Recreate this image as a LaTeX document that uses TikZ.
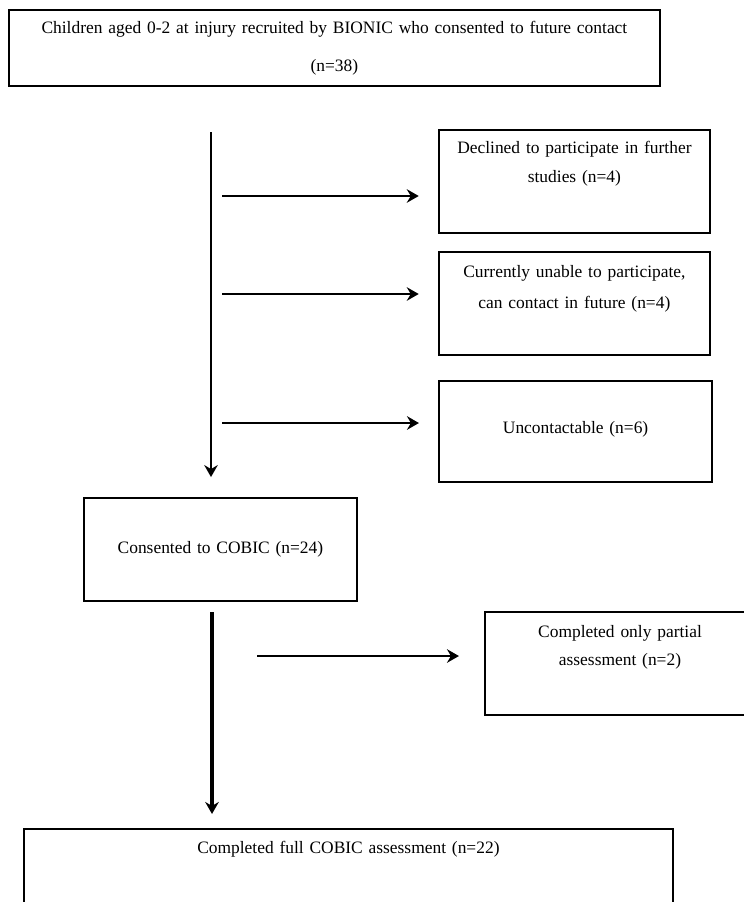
\documentclass[tikz,border=0pt]{standalone}
\usepackage{fontspec}
\setmainfont{Liberation Serif}
\usetikzlibrary{arrows.meta,positioning,calc}

\begin{document}
\begin{tikzpicture}[
    block/.style={
      rectangle,
      draw=black,
      line width=1.5pt,
      align=center,
      inner sep=0pt,
      font=\fontsize{12.4pt}{20.6pt}\selectfont
    },
    flow/.style={
      -{Stealth[length=0.3cm,width=0.34cm,inset=0.1cm]},
      line width=2pt
    }
]

\useasboundingbox (0,0) rectangle (18.6,-22.55);
\clip (0,0) rectangle (18.6,-22.55);

%% Boxes
\node [block, text width=16.28cm, text height=0.6cm, text depth=1.3cm, font=\fontsize{12.4pt}{27pt}\selectfont] (recruited) at (8.36,-1.2) {Children aged 0-2 at injury recruited by BIONIC who consented to future contact\\(n=38)};
\node [block, text width=6.78cm, text height=0.575cm, text depth=2.0cm] (declined) at (14.36,-4.54) {Declined to participate in further\\studies (n=4)};
\node [block, text width=6.78cm, text height=0.625cm, text depth=1.95cm, font=\fontsize{12.4pt}{22pt}\selectfont] (unable) at (14.36,-7.59) {Currently unable to participate,\\can contact in future (n=4)};
\node [block, text width=6.83cm, text height=1.3cm, text depth=1.225cm] (uncontactable) at (14.39,-10.79) {Uncontactable (n=6)};
\node [block, text width=6.83cm, text height=1.375cm, text depth=1.2cm] (consented) at (5.51,-13.74) {Consented to COBIC (n=24)};
\node [block, text width=6.75cm, text height=0.625cm, text depth=1.95cm, font=\fontsize{12.4pt}{19.9pt}\selectfont] (partial) at (15.5,-16.59) {Completed only partial\\assessment (n=2)};
\node [block, text width=16.23cm, text height=0.6cm, text depth=2.15cm] (completed) at (8.71,-22.1) {Completed full COBIC assessment (n=22)};

%% Arrows
\coordinate (trunk) at (5.275,0);
\coordinate (drop1) at (5.55,-4.9);
\coordinate (drop2) at (5.55,-7.35);
\coordinate (drop3) at (5.55,-10.575);
\coordinate (trunk2) at (5.3,0);
\coordinate (drop4) at (6.425,-16.4);

\draw [flow, shorten <=1.125cm, shorten >=0.5cm] (trunk |- recruited.south) -- (trunk |- consented.north);
\draw [flow, shorten >=0.475cm] (drop1) -- (drop1 -| declined.west);
\draw [flow, shorten >=0.475cm] (drop2) -- (drop2 -| unable.west);
\draw [flow, shorten >=0.475cm] (drop3) -- (drop3 -| uncontactable.west);
\draw [flow, line width=3pt, shorten <=0.25cm, shorten >=0.35cm] (trunk2 |- consented.south) -- (trunk2 |- completed.north);
\draw [flow, shorten >=0.625cm] (drop4) -- (drop4 -| partial.west);

\end{tikzpicture}
\end{document}
